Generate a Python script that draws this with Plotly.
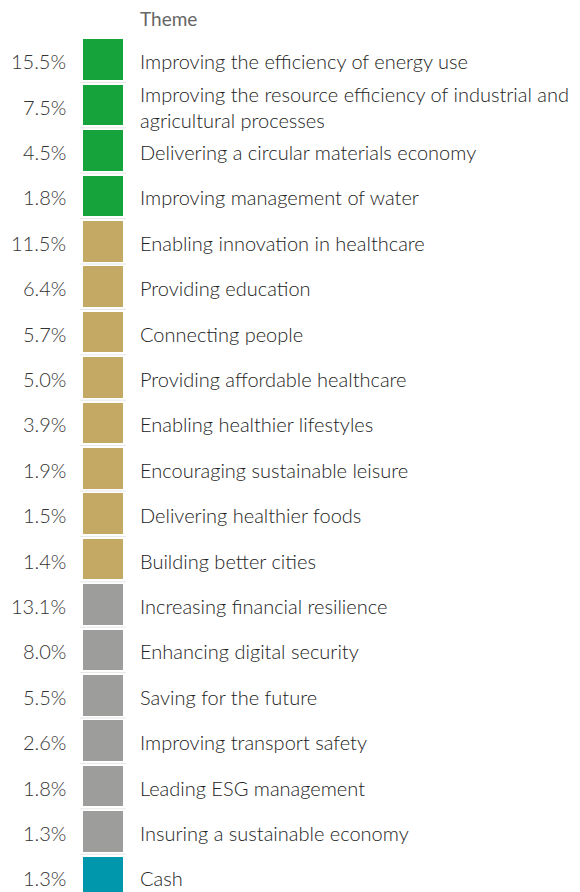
import plotly.graph_objects as go

themes = [
    "Improving the efficiency of energy use",
    "Improving the resource efficiency of industrial and<br>agricultural processes",
    "Delivering a circular materials economy",
    "Improving management of water",
    "Enabling innovation in healthcare",
    "Providing education",
    "Connecting people",
    "Providing affordable healthcare",
    "Enabling healthier lifestyles",
    "Encouraging sustainable leisure",
    "Delivering healthier foods",
    "Building better cities",
    "Increasing financial resilience",
    "Enhancing digital security",
    "Saving for the future",
    "Improving transport safety",
    "Leading ESG management",
    "Insuring a sustainable economy",
    "Cash",
]
weights = [15.5, 7.5, 4.5, 1.8, 11.5, 6.4, 5.7, 5.0, 3.9, 1.9, 1.5, 1.4,
           13.1, 8.0, 5.5, 2.6, 1.8, 1.3, 1.3]
groups = ["Environment"] * 4 + ["Social"] * 8 + ["Financial"] * 6 + ["Cash"]
group_colors = {"Environment": "#16a33c", "Social": "#c3a963",
                "Financial": "#9d9d9c", "Cash": "#0096ac"}
header = "Theme"

FONT = "Lato"
n = len(themes)
rows = list(range(n))
pct_text = [f"{w:.1f}%" for w in weights]
colors = [group_colors[g] for g in groups]

# the page body has an 8px margin: size the figure to the remaining window
OFF = 8
W, H = 580 - OFF, 892 - OFF
pitch = 45.4
first_center = 59.7 - OFF
y_top = -first_center / pitch
y_bot = (H - first_center) / pitch

fig = go.Figure()

# colour squares
fig.add_trace(go.Bar(
    y=rows, x=[40.5] * n, base=[82.8] * n, orientation="h",
    width=40.6 / pitch, marker=dict(color=colors, line=dict(width=0)),
    hoverinfo="skip", showlegend=False,
))

annotations = []
for r, p, t in zip(rows, pct_text, themes):
    annotations.append(dict(
        x=67.5, y=r, xref="x", yref="y", text=p, showarrow=False,
        xanchor="right", yanchor="middle", yshift=-1.5,
        font=dict(family=FONT, size=20, color="#333333", weight=300)))
    annotations.append(dict(
        x=138, y=r, xref="x", yref="y", text=t, showarrow=False,
        xanchor="left", yanchor="middle", yshift=-1.5, align="left",
        font=dict(family=FONT, size=20, color="#222222", weight=300)))

annotations.append(dict(
    text=header, x=138, y=1 - (19 - OFF) / H, xref="x", yref="paper",
    yanchor="middle", xanchor="left", showarrow=False,
    font=dict(family=FONT, size=19, color="#666666", weight=400)))

# faint separators between squares
shapes = []
for i in range(n - 1):
    shapes.append(dict(type="line", xref="x", yref="y", x0=80, x1=126,
                       y0=i + 0.5, y1=i + 0.5,
                       line=dict(color="#e6e6e6", width=1), layer="below"))

fig.update_layout(
    width=W, height=H,
    margin=dict(l=0, r=0, t=0, b=0),
    paper_bgcolor="white", plot_bgcolor="white",
    xaxis=dict(range=[OFF, OFF + W], visible=False, fixedrange=True),
    yaxis=dict(range=[y_bot, y_top], visible=False, fixedrange=True),
    shapes=shapes,
    annotations=annotations,
    bargap=0,
)

fig.write_html("out.html")
